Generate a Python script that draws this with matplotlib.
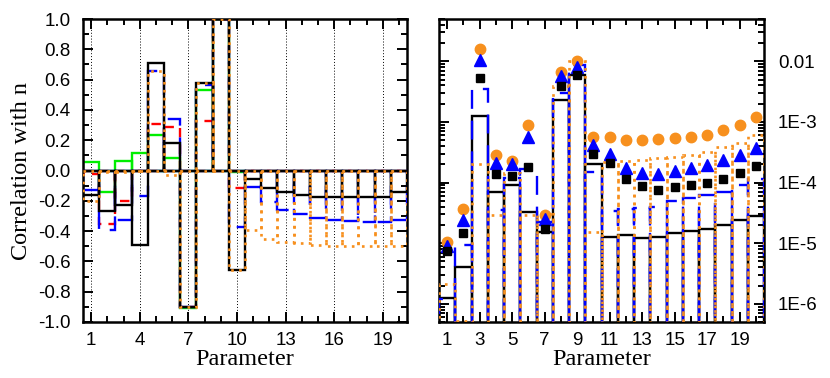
import numpy as np
import matplotlib
matplotlib.use("Agg")
import matplotlib.pyplot as plt
from matplotlib.ticker import MultipleLocator, FixedLocator, FixedFormatter, NullFormatter, LogLocator

params = list(range(1, 21))

# Left panel: correlation with n
corr_black = [-0.16, -0.27, -0.23, -0.49, 0.71, 0.18, -0.90, 0.58, 1.0, -0.66,
              -0.055, -0.115, -0.14, -0.16, -0.175, -0.175, -0.175, -0.175, -0.175, -0.14]
corr_blue = [-0.13, -0.39, -0.33, -0.168, 0.66, 0.34, -0.90, 0.565, 1.0, -0.37,
             -0.107, -0.206, -0.26, -0.29, -0.316, -0.327, -0.336, -0.34, -0.34, -0.33]
corr_red = [-0.02, -0.35, -0.20, 0.0, 0.31, 0.29, -0.90, 0.33, 1.0, -0.118,
            0, 0, 0, 0, 0, 0, 0, 0, 0, 0]
corr_green = [0.055, -0.14, 0.065, 0.115, 0.234, 0.08, -0.905, 0.53, 1.0, -0.013,
              0, 0, 0, 0, 0, 0, 0, 0, 0, 0]
corr_orange = [-0.20, -0.01, -0.01, 0.0, 0.66, -0.03, -0.90, 0.58, 1.0, -0.66,
               -0.395, -0.455, -0.47, -0.48, -0.49, -0.50, -0.50, -0.50, -0.50, -0.50]

# Right panel: log-scale values
bar_black = [1.24e-6, 4.0e-6, 1.24e-3, 6.9e-5, 9.2e-5, 3.3e-5, 1.52e-5, 2.27e-3, 5.9e-3, 2.0e-4,
             1.26e-5, 1.35e-5, 1.23e-5, 1.26e-5, 1.49e-5, 1.57e-5, 1.73e-5, 1.97e-5, 2.38e-5, 2.77e-5]
bar_blue = [1.2e-6, 9.2e-6, 3.45e-3, 3.5e-5, 1.2e-4, 1.7e-4, 2.2e-5, 3.0e-3, 8.6e-3, 1.5e-4,
            3.4e-5, 3.7e-5, 3.8e-5, 3.9e-5, 5.0e-5, 5.5e-5, 6.2e-5, 7.0e-5, 9.0e-5, 1.16e-4]
bar_orange = [2.1e-6, 5.2e-7, 2.0e-4, 2.9e-5, 1.44e-4, 2.95e-5, 3.0e-5, 3.9e-3, 1.0e-2, 1.5e-5,
              2.2e-4, 2.3e-4, 2.4e-4, 2.5e-4, 2.64e-4, 2.9e-4, 3.2e-4, 3.85e-4, 4.5e-4, 6.0e-4]
pt_circle = [1.05e-5, 3.6e-5, 1.62e-2, 2.8e-4, 2.26e-4, 8.8e-4, 2.95e-5, 6.7e-3, 1.01e-2, 5.6e-4,
             5.6e-4, 4.97e-4, 4.97e-4, 5.3e-4, 5.4e-4, 5.6e-4, 6.2e-4, 7.3e-4, 9.0e-4, 1.2e-3]
pt_triangle = [8.96e-6, 2.44e-5, 1.07e-2, 2.13e-4, 2.0e-4, 5.6e-4, 2.47e-5, 5.65e-3, 8.05e-3, 4.2e-4,
               3.0e-4, 1.76e-4, 1.46e-4, 1.4e-4, 1.55e-4, 1.74e-4, 1.97e-4, 2.32e-4, 2.88e-4, 3.7e-4]
pt_square = [7.4e-6, 1.49e-5, 5.3e-3, 1.4e-4, 1.3e-4, 1.8e-4, 1.69e-5, 3.87e-3, 5.9e-3, 3.0e-4,
             2.1e-4, 1.16e-4, 8.75e-5, 7.6e-5, 8.4e-5, 9.2e-5, 9.8e-5, 1.16e-4, 1.44e-4, 1.87e-4]

left_yticks = [-1.0, -0.8, -0.6, -0.4, -0.2, 0.0, 0.2, 0.4, 0.6, 0.8, 1.0]
left_xticks = [1, 4, 7, 10, 13, 16, 19]
right_xticks = [1, 3, 5, 7, 9, 11, 13, 15, 17, 19]
right_yticks = [1e-6, 1e-5, 1e-4, 1e-3, 1e-2]
right_ylabels = ["1E-6", "1E-5", "1E-4", "1E-3", "0.01"]

RED = "#ff0000"
BLUE = "#0000ff"
GREEN = "#00ee00"
ORANGE = "#f7901e"
BLACK = "#000000"

sans = "Liberation Sans"
serif = "Liberation Serif"
plt.rcParams["font.family"] = [sans, "DejaVu Sans"]

fig = plt.figure(figsize=(8.3, 3.78), dpi=100)
axL = fig.add_axes([83/830, 1-322/378, (407-83)/830, (322-19)/378])
axR = fig.add_axes([439/830, 1-322/378, (764-439)/830, (322-19)/378])

x = np.array(params)
LW = 1.7
dash_red = (0, (4, 3))
dash_blue = (0, (8, 5))
dot_or = (0, (1, 2.0))
LW_OR = 1.9

# left panel bars
axL.bar(x, corr_green, width=1, fill=False, edgecolor=GREEN, linewidth=LW, linestyle="-", zorder=2)
axL.bar(x, corr_red, width=1, fill=False, edgecolor=RED, linewidth=LW, linestyle=dash_red, zorder=3)
axL.bar(x, corr_blue, width=1, fill=False, edgecolor=BLUE, linewidth=LW, linestyle=dash_blue, zorder=4)
axL.bar(x, corr_black, width=1, fill=False, edgecolor=BLACK, linewidth=LW, linestyle="-", zorder=5)
axL.bar(x, corr_orange, width=1, fill=False, edgecolor=ORANGE, linewidth=LW_OR, linestyle=dot_or, zorder=6)

axL.set_xlim(0.5, 20.5)
axL.set_ylim(-1.0, 1.0)
axL.xaxis.set_major_locator(FixedLocator(left_xticks))
axL.xaxis.set_minor_locator(MultipleLocator(1))
axL.yaxis.set_major_locator(FixedLocator(left_yticks))
axL.yaxis.set_minor_locator(MultipleLocator(0.1))
axL.set_yticklabels([f"{v:.1f}".replace("\u2212", "-") for v in left_yticks])
for xv in left_xticks:
    axL.axvline(xv, color="black", linestyle=(0, (1, 2)), linewidth=0.7, zorder=1)
axL.set_xlabel("Parameter", fontfamily=serif, fontsize=17.5, labelpad=0)
axL.set_ylabel("Correlation with n", fontfamily=serif, fontsize=17.5, labelpad=4)

# right panel bars
bottom = 1e-8
def hb(vals):
    return [v - bottom for v in vals]
axR.bar(x, hb(bar_black), bottom=bottom, width=1, fill=False, edgecolor=BLACK, linewidth=LW, zorder=2)
axR.bar(x, hb(bar_blue), bottom=bottom, width=1, fill=False, edgecolor=BLUE, linewidth=LW, linestyle=dash_blue, zorder=3)
axR.bar(x, hb(bar_orange), bottom=bottom, width=1, fill=False, edgecolor=ORANGE, linewidth=LW_OR, linestyle=dot_or, zorder=4)
axR.plot(x, pt_circle, linestyle="none", marker="o", markersize=7.5, color=ORANGE, zorder=5)
axR.plot(x, pt_triangle, linestyle="none", marker="^", markersize=8, color=BLUE, zorder=6)
axR.plot(x, pt_square, linestyle="none", marker="s", markersize=6, color=BLACK, zorder=7)

axR.set_yscale("log")
axR.set_xlim(0.5, 20.5)
axR.set_ylim(5e-7, 5e-2)
axR.xaxis.set_major_locator(FixedLocator(right_xticks))
axR.xaxis.set_minor_locator(MultipleLocator(1))
axR.yaxis.set_major_locator(FixedLocator(right_yticks))
axR.yaxis.set_major_formatter(FixedFormatter(right_ylabels))
axR.yaxis.set_minor_locator(LogLocator(base=10, subs=np.arange(2, 10), numticks=20))
axR.yaxis.set_minor_formatter(NullFormatter())
axR.yaxis.tick_right()
axR.set_xlabel("Parameter", fontfamily=serif, fontsize=17.5, labelpad=0)

for ax in (axL, axR):
    for s in ax.spines.values():
        s.set_linewidth(1.8)
    ax.tick_params(which="both", direction="in", top=True, bottom=True, left=True, right=True,
                   labelsize=13.5, width=1.4, pad=7)
    ax.tick_params(which="major", length=7)
    ax.tick_params(which="minor", length=4)
axR.tick_params(axis="y", which="both", labelleft=False, labelright=True, pad=10)
axL.tick_params(axis="y", pad=9)

fig.savefig("out.png", dpi=100)
